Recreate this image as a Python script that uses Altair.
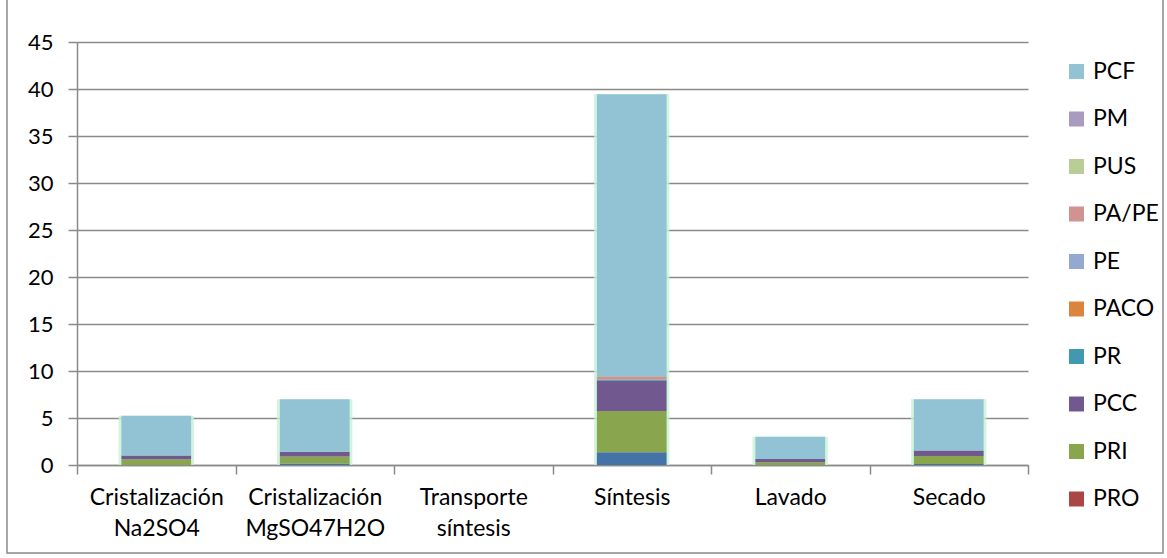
import altair as alt
import pandas as pd

# Process stages on the x axis
categories = [
    "Cristalización Na2SO4",
    "Cristalización MgSO47H2O",
    "Transporte síntesis",
    "Síntesis",
    "Lavado",
    "Secado",
]

# Stacking order, bottom to top
series = ["Otros", "PRO", "PRI", "PCC", "PR", "PACO", "PE", "PA/PE", "PUS", "PM", "PCF"]
colors = ["#4572A7", "#AA4643", "#89A54E", "#71588F", "#4198AF", "#DB843D",
          "#93A9CF", "#D19392", "#B9CD96", "#A99BBD", "#92C3D4"]

# Values per series, one per stage
otros = [0.0, 0.15, 0.0, 1.35, 0.0, 0.1]
pro = [0.0, 0.0, 0.0, 0.0, 0.0, 0.0]
pri = [0.6, 0.75, 0.0, 4.4, 0.28, 0.85]
pcc = [0.4, 0.5, 0.0, 3.2, 0.36, 0.6]
pr = [0.0, 0.0, 0.0, 0.15, 0.0, 0.0]
paco = [0.0, 0.0, 0.0, 0.0, 0.0, 0.0]
pe = [0.0, 0.0, 0.0, 0.0, 0.0, 0.0]
pape = [0.0, 0.0, 0.0, 0.35, 0.0, 0.0]
pus = [0.0, 0.0, 0.0, 0.0, 0.0, 0.0]
pm = [0.0, 0.0, 0.0, 0.0, 0.0, 0.0]
pcf = [4.25, 5.6, 0.0, 30.0, 2.36, 5.45]

legend_entries = ["PCF", "PM", "PUS", "PA/PE", "PE", "PACO", "PR", "PCC", "PRI", "PRO"]
y_ticks = [0, 5, 10, 15, 20, 25, 30, 35, 40, 45]

series_values = [otros, pro, pri, pcc, pr, paco, pe, pape, pus, pm, pcf]
rows = []
for idx, (name, vals) in enumerate(zip(series, series_values)):
    for cat, v in zip(categories, vals):
        rows.append({"categoria": cat, "serie": name, "valor": v, "orden": idx})
df = pd.DataFrame(rows)

FONT = "Lato"
GRAY = "#8a8a8a"

x_enc = alt.X(
    "categoria:N",
    sort=categories,
    scale=alt.Scale(paddingInner=0, paddingOuter=0),
    axis=alt.Axis(
        title=None,
        labelAngle=0,
        labelExpr="split(datum.label, ' ')",
        tickBand="extent",
        domainColor=GRAY,
        domainWidth=1.5,
        tickColor=GRAY,
        tickWidth=1.5,
        tickSize=9,
        labelFont=FONT,
        labelFontSize=23,
        labelColor="#000000",
        labelPadding=12,
        labelLineHeight=31,
        grid=False,
    ),
)

y_scale = alt.Scale(domain=[0, 45], nice=False)
y_axis = alt.Axis(
    title=None,
    values=y_ticks,
    grid=True,
    gridColor=GRAY,
    gridWidth=1.5,
    domainColor=GRAY,
    domainWidth=1.5,
    tickColor=GRAY,
    tickWidth=1.5,
    tickSize=9,
    labelFont=FONT,
    labelFontSize=22,
    labelColor="#000000",
    labelPadding=15,
)

# Soft green glow behind each column
glow = (
    alt.Chart(df)
    .transform_aggregate(total="sum(valor)", groupby=["categoria"])
    .mark_bar(width=alt.RelativeBandSize(0.475), color="#c6f1d3", opacity=0.8)
    .encode(x=x_enc, y=alt.Y("total:Q", scale=y_scale, axis=y_axis))
)

bars = (
    alt.Chart(df)
    .mark_bar(width=alt.RelativeBandSize(0.44))
    .encode(
        x=x_enc,
        y=alt.Y("valor:Q", stack="zero", scale=y_scale, axis=y_axis),
        color=alt.Color(
            "serie:N",
            scale=alt.Scale(domain=series, range=colors),
            legend=alt.Legend(
                values=legend_entries,
                title=None,
                orient="none",
                legendX=988,
                legendY=18,
                symbolType="square",
                symbolSize=225,
                symbolStrokeWidth=0,
                labelFont=FONT,
                labelFontSize=23,
                labelColor="#000000",
                labelOffset=5,
                rowPadding=23.5,
            ),
        ),
        order=alt.Order("orden:Q", sort="ascending"),
    )
)

# Outer frame of the chart
frame = (
    alt.Chart(pd.DataFrame({"k": [0]}))
    .mark_rect(fill=None, stroke=GRAY, strokeWidth=1.5)
    .encode(x=alt.value(-70), x2=alt.value(1086), y=alt.value(-45), y2=alt.value(511))
)

chart = (
    alt.layer(glow, bars, frame)
    .properties(
        width=951,
        height=423,
        autosize="none",
        padding={"left": 77, "top": 42, "right": 139, "bottom": 93},
        background="#ffffff",
    )
    .configure_view(stroke=None)
)

chart.save("out.html", embed_options={"renderer": "svg", "actions": False})
